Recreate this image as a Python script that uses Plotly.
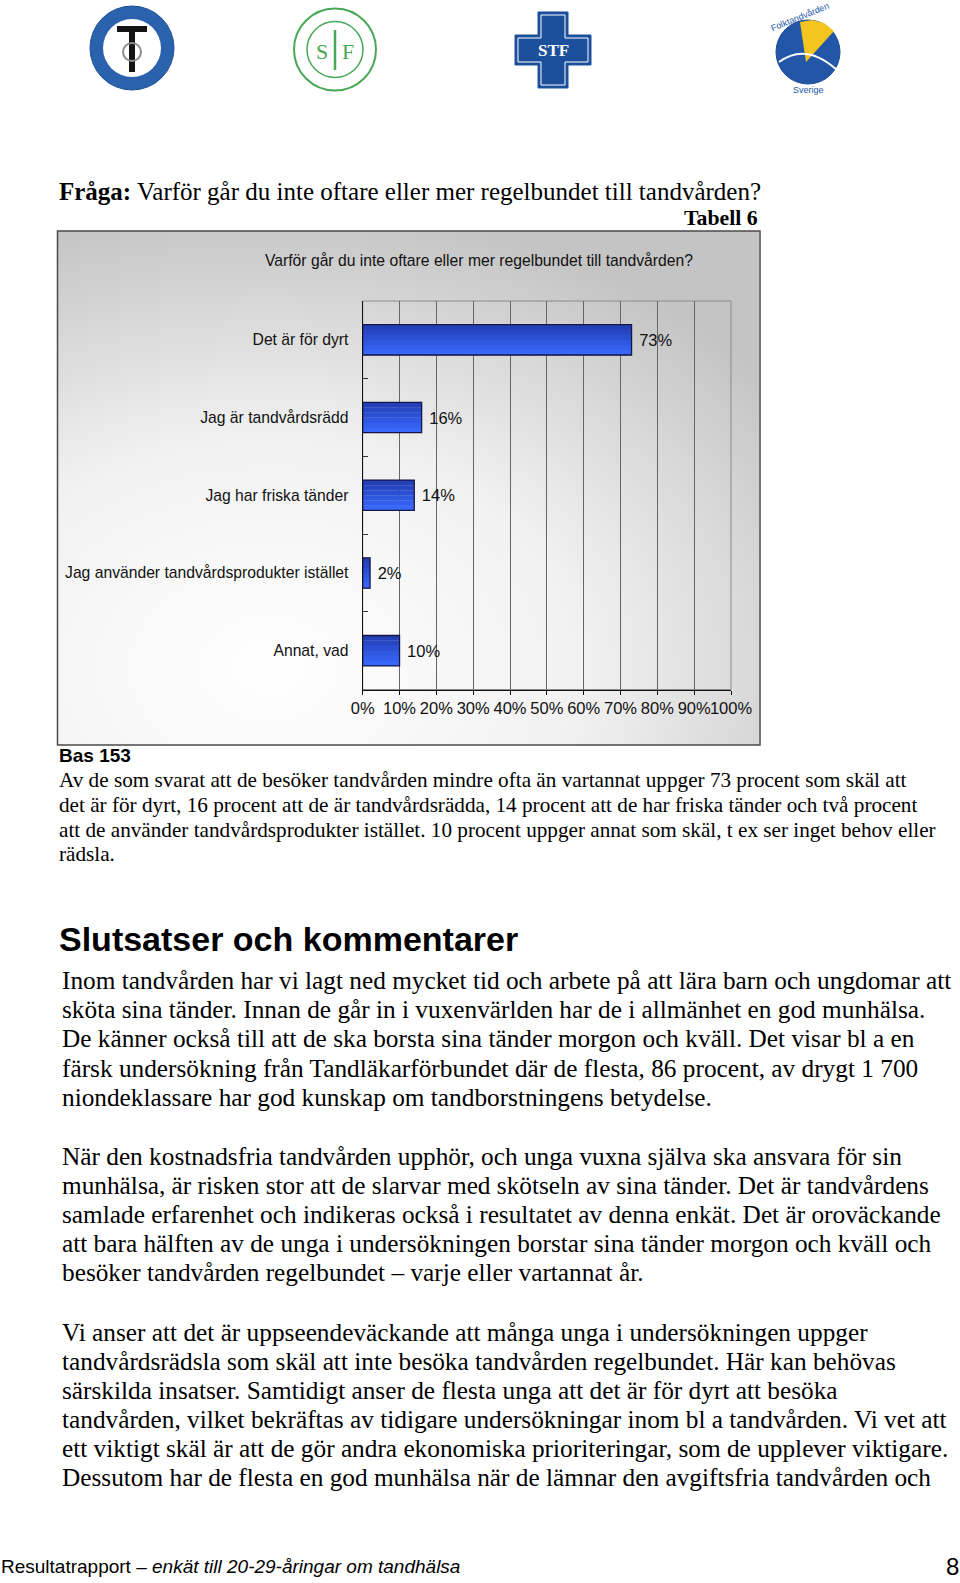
import base64
import plotly.graph_objects as go

W, H = 960, 1583

# chart data
categories = ["Det är för dyrt", "Jag är tandvårdsrädd", "Jag har friska tänder",
              "Jag använder tandvårdsprodukter istället", "Annat, vad"]
percent = [73, 16, 14, 2, 10]
x_ticks = [0, 10, 20, 30, 40, 50, 60, 70, 80, 90, 100]
chart_title = "Varför går du inte oftare eller mer regelbundet till tandvården?"

# page text
question_lead = "Fråga:"
question_text = "Varför går du inte oftare eller mer regelbundet till tandvården?"
table_label = "Tabell 6"
base_label = "Bas 153"
summary_lines = [
    "Av de som svarat att de besöker tandvården mindre ofta än vartannat uppger 73 procent som skäl att",
    "det är för dyrt, 16 procent att de är tandvårdsrädda, 14 procent att de har friska tänder och två procent",
    "att de använder tandvårdsprodukter istället. 10 procent uppger annat som skäl, t ex ser inget behov eller",
    "rädsla.",
]
heading = "Slutsatser och kommentarer"
para_a = [
    "Inom tandvården har vi lagt ned mycket tid och arbete på att lära barn och ungdomar att",
    "sköta sina tänder. Innan de går in i vuxenvärlden har de i allmänhet en god munhälsa.",
    "De känner också till att de ska borsta sina tänder morgon och kväll. Det visar bl a en",
    "färsk undersökning från Tandläkarförbundet där de flesta, 86 procent, av drygt 1 700",
    "niondeklassare har god kunskap om tandborstningens betydelse.",
]
para_b = [
    "När den kostnadsfria tandvården upphör, och unga vuxna själva ska ansvara för sin",
    "munhälsa, är risken stor att de slarvar med skötseln av sina tänder. Det är tandvårdens",
    "samlade erfarenhet och indikeras också i resultatet av denna enkät. Det är oroväckande",
    "att bara hälften av de unga i undersökningen borstar sina tänder morgon och kväll och",
    "besöker tandvården regelbundet – varje eller vartannat år.",
]
para_c = [
    "Vi anser att det är uppseendeväckande att många unga i undersökningen uppger",
    "tandvårdsrädsla som skäl att inte besöka tandvården regelbundet. Här kan behövas",
    "särskilda insatser. Samtidigt anser de flesta unga att det är för dyrt att besöka",
    "tandvården, vilket bekräftas av tidigare undersökningar inom bl a tandvården. Vi vet att",
    "ett viktigt skäl är att de gör andra ekonomiska prioriteringar, som de upplever viktigare.",
    "Dessutom har de flesta en god munhälsa när de lämnar den avgiftsfria tandvården och",
]
footer_lead = "Resultatrapport – "
footer_rest = "enkät till 20-29-åringar om tandhälsa"
page_no = "8"

SERIF = "Liberation Serif, Times New Roman, serif"
SANS = "Liberation Sans, Arial, sans-serif"


def px(x):
    return x / W


def py(y):
    return 1 - y / H


def path(points):
    s = "M " + " L ".join(f"{px(x):.5f},{py(y):.5f}" for x, y in points)
    return s + " Z"


def circle(cx, cy, r, **kw):
    return dict(type="circle", xref="paper", yref="paper",
                x0=px(cx - r), x1=px(cx + r), y0=py(cy + r), y1=py(cy - r), **kw)


annotations = []


def note(x, y, text, size, family=SERIF, color="#000", anchor="left", **kw):
    annotations.append(dict(x=px(x), y=py(y), xref="paper", yref="paper", text=text,
                            showarrow=False, xanchor=anchor, yanchor="middle",
                            font=dict(size=size, family=family, color=color), **kw))


fig = go.Figure()

# bar gradient made of thin bands (dark top -> bright bottom), then outline with labels
band_colors = ["#2340b6", "#2747c4", "#2b4fd2", "#2f57df", "#335fec", "#3867f8"]
bw = 0.39 / len(band_colors)
for k, col in enumerate(band_colors):
    fig.add_trace(go.Bar(x=percent, y=categories, orientation="h", width=bw + 0.004,
                         offset=-0.195 + k * bw, marker=dict(color=col, line=dict(width=0)),
                         hoverinfo="skip"))
fig.add_trace(go.Bar(
    x=percent, y=categories, orientation="h", width=0.39, offset=-0.195,
    marker=dict(color="rgba(0,0,0,0)", line=dict(color="#15154a", width=1.3)),
    text=[f"\u00a0{v}%" for v in percent], textposition="outside", cliponaxis=False,
    outsidetextfont=dict(size=16.5, family=SANS, color="#111"),
))

# chart box background gradient
svg = ('<svg xmlns="http://www.w3.org/2000/svg" width="702" height="514" '
       'viewBox="0 0 702 514" preserveAspectRatio="none"><defs>'
       '<radialGradient id="g" cx="0.3" cy="0.85" r="0.9">'
       '<stop offset="0" stop-color="#ffffff"/><stop offset="0.5" stop-color="#f1f1f1"/>'
       '<stop offset="1" stop-color="#c4c4c4"/></radialGradient></defs>'
       '<rect width="702" height="514" fill="url(#g)"/></svg>')
bg_src = "data:image/svg+xml;base64," + base64.b64encode(svg.encode()).decode()

shapes = [
    dict(type="rect", xref="paper", yref="paper", x0=px(57.5), x1=px(760), y0=py(745), y1=py(231),
         line=dict(color="#4a4a4a", width=1.5)),
    dict(type="rect", xref="paper", yref="paper", x0=px(362.7), x1=px(731), y0=py(689.5), y1=py(301),
         line=dict(color="#8a8a8a", width=1), layer="between"),
]

# logos (approximate)
shapes += [
    circle(132, 48, 42, fillcolor="#2a62ad", line=dict(color="#1d4f96", width=1)),
    circle(132, 48, 29, fillcolor="#ffffff", line=dict(width=0)),
    dict(type="path", xref="paper", yref="paper", fillcolor="#141414", line=dict(width=0),
         path=path([(117, 26), (147, 26), (147, 32), (135, 32), (135, 72), (129, 72), (129, 32), (117, 32)])),
    circle(132, 52, 9, line=dict(color="#8c8c8c", width=2)),
    circle(335, 49.5, 41, fillcolor="#ffffff", line=dict(color="#4aa756", width=2)),
    circle(335, 49.5, 28, line=dict(color="#4aa756", width=1.5)),
    dict(type="line", xref="paper", yref="paper", x0=px(335), x1=px(335), y0=py(30), y1=py(70),
         line=dict(color="#4aa756", width=2.5)),
    dict(type="path", xref="paper", yref="paper", fillcolor="#1c4f9c", line=dict(color="#1c4f9c", width=1),
         path=path([(538, 12), (568, 12), (568, 35), (591, 35), (591, 65), (568, 65), (568, 88),
                    (538, 88), (538, 65), (515, 65), (515, 35), (538, 35)])),
    dict(type="path", xref="paper", yref="paper", line=dict(color="#ffffff", width=1),
         path=path([(541, 15), (565, 15), (565, 38), (588, 38), (588, 62), (565, 62), (565, 85),
                    (541, 85), (541, 62), (518, 62), (518, 38), (541, 38)])),
    circle(808, 52, 32, fillcolor="#2257a8", line=dict(color="#1b4a92", width=1)),
    dict(type="path", xref="paper", yref="paper", fillcolor="#f4c51e", line=dict(width=0),
         path=path([(806, 62), (800, 22), (812, 20), (824, 23), (834, 31)])),
    dict(type="path", xref="paper", yref="paper", line=dict(color="#ffffff", width=2),
         path=f"M {px(779):.5f},{py(62):.5f} Q {px(806):.5f},{py(42):.5f} {px(837):.5f},{py(70):.5f}"),
]

note(322, 51, "S", 22, SERIF, "#4aa756", anchor="center")
note(348, 51, "F", 22, SERIF, "#4aa756", anchor="center")
note(553, 50, "<b>STF</b>", 17, SERIF, "#ffffff", anchor="center")
note(800, 17, "Folktandvården", 9, SANS, "#2257a8", anchor="center", textangle=-22)
note(808, 90, "Sverige", 9, SANS, "#2257a8", anchor="center")

# page text
note(56.5, 191.8, f"<b>{question_lead}</b> {question_text}", 25)
note(760, 218, f"<b>{table_label}</b>", 21.8, anchor="right")
note(479, 260.5, chart_title, 15.7, SANS, "#111", anchor="center")
note(56.5, 755.2, f"<b>{base_label}</b>", 19, SANS)
for i, line in enumerate(summary_lines):
    note(56.5, 780.4 + i * 24.55, line, 21.2)
note(56.5, 938.9, f"<b>{heading}</b>", 34, SANS)
for start, lines in [(980.3, para_a), (1156.0, para_b), (1331.6, para_c)]:
    for i, line in enumerate(lines):
        note(59.5, start + i * 29.08, line, 25.3)
note(-1, 1566.9, f"{footer_lead}<i>{footer_rest}</i>", 19, SANS)
note(952, 1566, page_no, 24, SANS, anchor="center")

fig.update_layout(
    width=W, height=H, autosize=False, margin=dict(l=0, r=0, t=0, b=0),
    paper_bgcolor="#ffffff", plot_bgcolor="#ffffff",
    barmode="overlay", showlegend=False,
    shapes=shapes, annotations=annotations,
    images=[dict(source=bg_src, xref="paper", yref="paper", x=px(57.5), y=py(231),
                 sizex=702 / W, sizey=514 / H, sizing="stretch", xanchor="left", yanchor="top",
                 layer="below")],
    xaxis=dict(domain=[px(362.7), px(731)], range=[0, 100], tickvals=x_ticks,
               ticktext=[f"{t}%" for t in x_ticks], tickangle=0, automargin=False,
               showgrid=True, gridcolor="#666666", gridwidth=1,
               zeroline=False, showline=True, linecolor="#111", linewidth=1.2,
               ticks="outside", ticklen=4, tickcolor="#111",
               tickfont=dict(size=16.5, family=SANS, color="#111")),
    yaxis=dict(domain=[py(689.5), py(301)], type="category", categoryorder="array",
               categoryarray=categories, autorange="reversed", showgrid=False, automargin=False,
               showline=True, linecolor="#111", linewidth=1.2, ticks="inside", ticklen=5,
               tickcolor="#333", tickson="boundaries", ticklabelstandoff=10,
               tickfont=dict(size=15.7, family=SANS, color="#111")),
)

fig.write_html("out.html", config={"responsive": False, "displayModeBar": False},
               post_script="document.body.style.margin='0';document.body.style.overflow='hidden';")
